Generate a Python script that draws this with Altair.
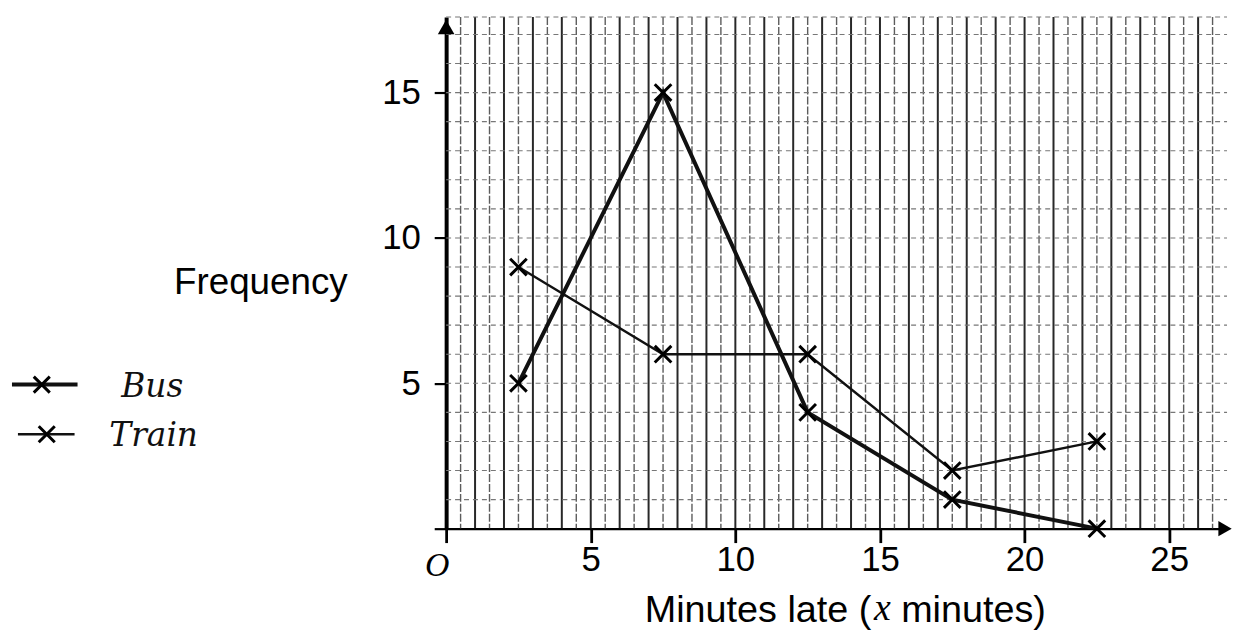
import altair as alt
import numpy as np
import pandas as pd

# ---- data ----
minutes = [2.5, 7.5, 12.5, 17.5, 22.5]
bus = [5, 15, 4, 1, 0]
train = [9, 6, 6, 2, 3]
series_names = ["Bus", "Train"]
x_ticks = [0, 5, 10, 15, 20, 25]
y_ticks = [0, 5, 10, 15]

XMAX = 27.0
YMAX = 17.6

df = pd.DataFrame({
    "minutes": minutes * 2,
    "frequency": bus + train,
    "series": [series_names[0]] * len(bus) + [series_names[1]] * len(train),
})

# graph-paper grid
vmajor = pd.DataFrame({"x": np.arange(1, 27, 1.0)})
vminor = pd.DataFrame({"x": np.arange(0.5, 27, 1.0)})
hgrid = pd.DataFrame({"y": list(np.arange(1, 18, 1.0)) + [YMAX]})

xs = alt.Scale(domain=[0, XMAX], nice=False, zero=False)
ys = alt.Scale(domain=[0, YMAX], nice=False, zero=False)

grid_major = alt.Chart(vmajor).mark_rule(color="#111", strokeWidth=2.0, opacity=0.9).encode(
    x=alt.X("x:Q", scale=xs), y=alt.value(0), y2=alt.value(515))
grid_minor = alt.Chart(vminor).mark_rule(color="#333", strokeWidth=1.4, strokeDash=[8, 2], opacity=0.8).encode(
    x=alt.X("x:Q", scale=xs), y=alt.value(0), y2=alt.value(515))
grid_h = alt.Chart(hgrid).mark_rule(color="#777", strokeWidth=1.1, strokeDash=[5, 4]).encode(
    y=alt.Y("y:Q", scale=ys), x=alt.value(0), x2=alt.value(786))

axis_font = "Liberation Sans"

base = alt.Chart(df).encode(
    x=alt.X("minutes:Q", scale=xs, axis=alt.Axis(
        values=x_ticks, labelExpr="datum.value == 0 ? '' : datum.label",
        grid=False, domain=True, domainColor="black", domainWidth=2.4,
        ticks=True, tickColor="black", tickWidth=2.8, tickSize=14,
        labelFont=axis_font, labelFontSize=35, labelColor="black", labelPadding=0,
        title=None)),
    y=alt.Y("frequency:Q", scale=ys, axis=alt.Axis(
        values=y_ticks, labelExpr="datum.value == 0 ? '' : datum.label",
        grid=False, domain=True, domainColor="black", domainWidth=4,
        ticks=True, tickColor="black", tickWidth=2.2, tickSize=12,
        labelFont=axis_font, labelFontSize=35, labelColor="black", labelPadding=14,
        title="Frequency", titleAngle=0, titleFont=axis_font, titleFontSize=37,
        titleFontWeight="normal", titleColor="black", titleX=-187, titleY=267,
        titleAlign="center", titleBaseline="middle")),
    detail="series:N",
)

lines = base.mark_line(color="#111").encode(
    strokeWidth=alt.StrokeWidth("series:N", scale=alt.Scale(domain=series_names, range=[4.0, 2.4]), legend=None))

cross = "M-1,-1L1,1M-1,1L1,-1"
points = base.mark_point(shape=cross, filled=False, color="#000", size=280, strokeWidth=3, opacity=1)

# axis arrowheads
arrow_up = alt.Chart(pd.DataFrame({"x": [0], "y": [YMAX]})).mark_point(
    shape="triangle-up", filled=True, color="black", size=280, opacity=1).encode(
    x=alt.X("x:Q", scale=xs), y=alt.Y("y:Q", scale=ys), yOffset=alt.value(10))
arrow_right = alt.Chart(pd.DataFrame({"x": [XMAX], "y": [0]})).mark_point(
    shape="triangle-right", filled=True, color="black", size=240, opacity=1).encode(
    x=alt.X("x:Q", scale=xs), y=alt.Y("y:Q", scale=ys), xOffset=alt.value(-2))

one = pd.DataFrame({"a": [0]})
hand = "DejaVu Serif"

# legend (handwritten key)
leg = []
for name, ly, x1, x2, cx, tx, sw in [
    (series_names[0], 370, -437, -371, -407, -327, 4.0),
    (series_names[1], 420, -431, -374, -402, -339, 2.4),
]:
    leg.append(alt.Chart(one).mark_rule(color="#111", strokeWidth=sw).encode(
        x=alt.value(x1), x2=alt.value(x2), y=alt.value(ly)))
    leg.append(alt.Chart(one).mark_point(shape=cross, filled=False, color="#000", size=260,
                                         strokeWidth=3, opacity=1).encode(
        x=alt.value(cx), y=alt.value(ly)))
    leg.append(alt.Chart(one).mark_text(text=name, font=hand, fontStyle="italic", fontSize=33,
                                        align="left", baseline="middle", color="#111").encode(
        x=alt.value(tx), y=alt.value(ly + 2)))

# x axis title with italic x, and origin label
t1 = alt.Chart(one).mark_text(text="Minutes late (", font=axis_font, fontSize=38, align="right",
                              baseline="middle", color="black").encode(x=alt.value(428), y=alt.value(598))
t2 = alt.Chart(one).mark_text(text="x", font="Liberation Serif", fontStyle="italic", fontSize=38, align="center",
                              baseline="middle", color="black").encode(x=alt.value(439), y=alt.value(596))
t3 = alt.Chart(one).mark_text(text="minutes)", font=axis_font, fontSize=38, align="left",
                              baseline="middle", color="black").encode(x=alt.value(458), y=alt.value(598))
origin = alt.Chart(one).mark_text(text="O", font="Liberation Serif", fontStyle="italic", fontSize=34,
                                  align="center", baseline="middle", color="black").encode(
    x=alt.value(-9), y=alt.value(553))

chart = alt.layer(
    grid_minor, grid_major, grid_h, lines, points, arrow_up, arrow_right,
    *leg, t1, t2, t3, origin,
).properties(
    width=786, height=515,
    autosize=alt.AutoSizeParams(type="none"),
    padding={"left": 441, "top": 7, "right": 5, "bottom": 112},
    background="white",
).configure_view(stroke=None)

chart.save("out.html", embed_options={"renderer": "svg", "actions": False})
